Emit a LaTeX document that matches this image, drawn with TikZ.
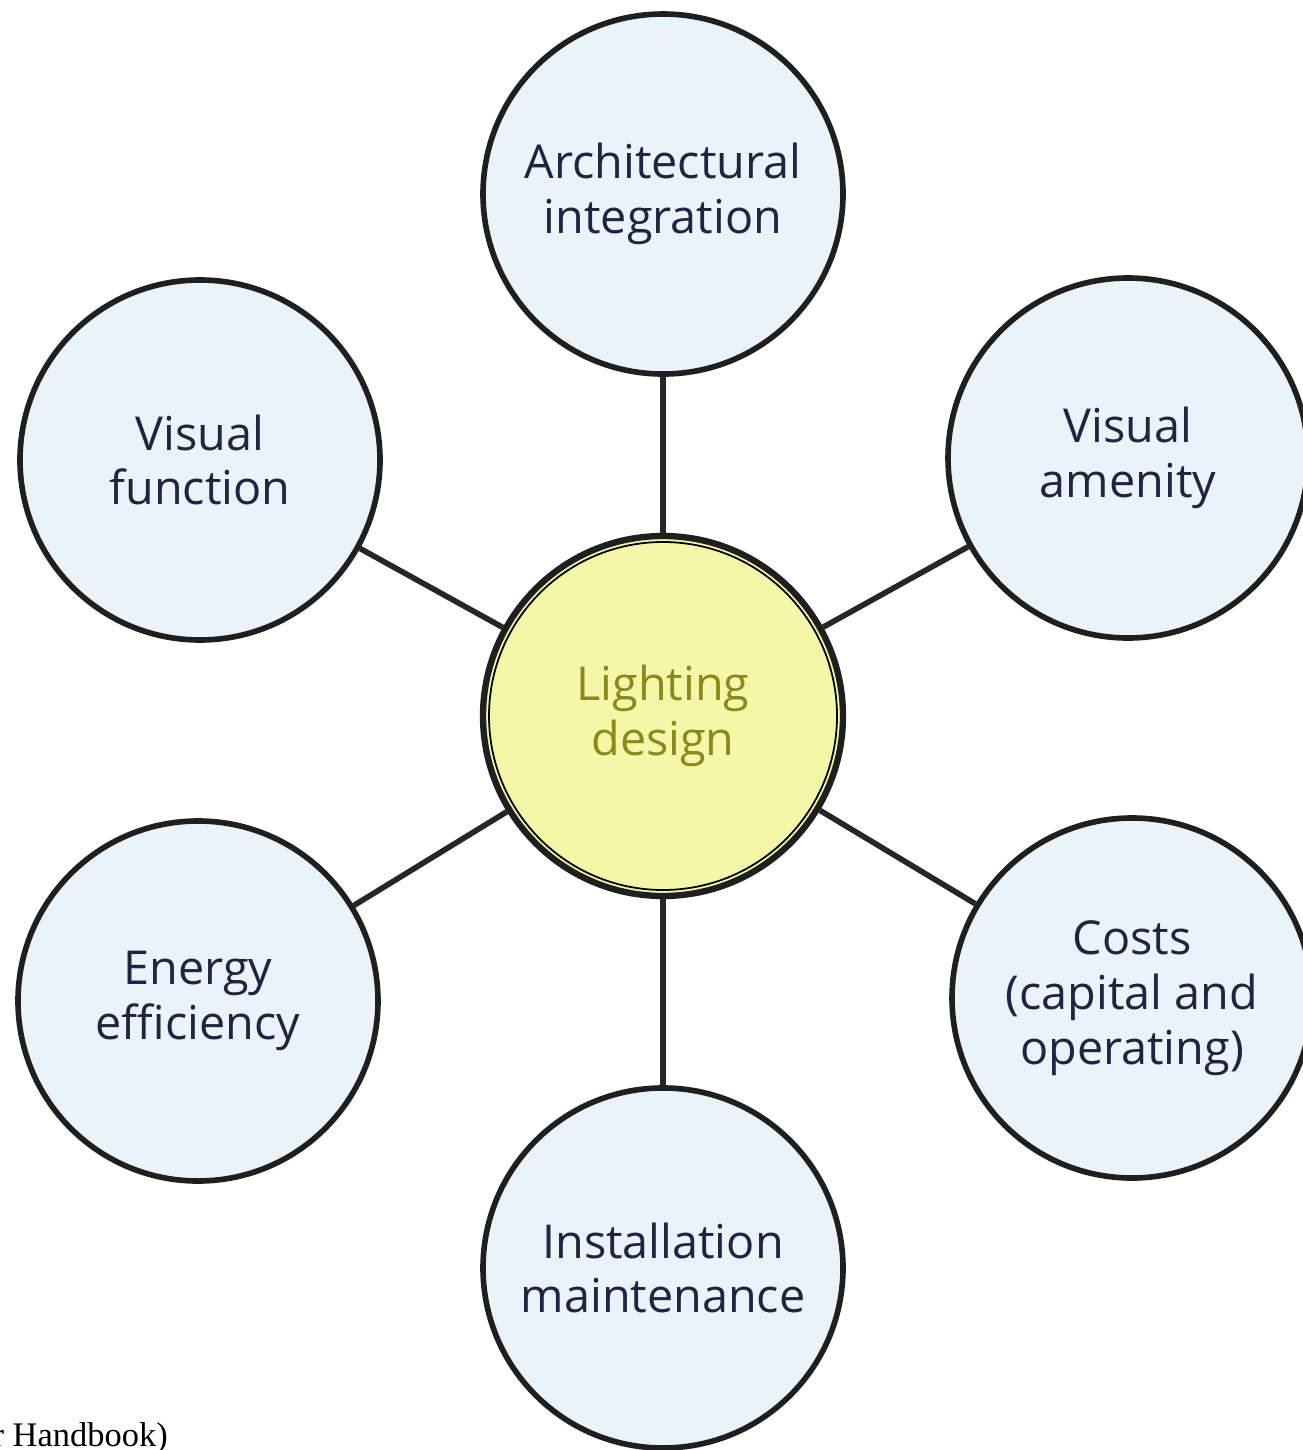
\documentclass[tikz,border=0pt]{standalone}
\usepackage{fontspec}
\setmainfont{Open Sans}
\newfontfamily\notefont{Liberation Serif}
\usepackage{xcolor}
\usetikzlibrary{positioning}

\definecolor{ringfill}{HTML}{EAF2FA}
\definecolor{ringtext}{HTML}{1F2440}
\definecolor{corefill}{HTML}{F4F7A8}
\definecolor{coretext}{HTML}{8A8A1C}

\begin{document}
\begin{tikzpicture}[node distance=1.6cm,
  every node/.style={inner sep=0pt},
  topic/.style={draw=black!88,circle,line width=1.6pt,fill=ringfill,minimum size=3.6cm,
    align=center,text=ringtext,font=\fontsize{13.3}{15.6}\selectfont},
  corebox/.style={topic,fill=corefill,text=coretext,line width=1.8pt},
  spoke/.style={draw=black!85,line width=1.6pt}]
  \useasboundingbox (0,0) rectangle (13.03,-14.50);
  \node[corebox] (core) at (6.63,-7.16) {Lighting\\design};
  \node[topic,above=1.56cm of core] (arch) {Architectural\\integration};
  \node[topic,below=1.86cm of core] (install) {Installation\\maintenance};
  \node[topic] (vfun) at (2.00,-4.60) {Visual\\function};
  \node[topic] (vamen) at (11.28,-4.58) {Visual\\amenity};
  \node[topic] (energy) at (1.98,-10.01) {Energy\\efficiency};
  \node[topic] (costs) at (11.32,-9.98) {Costs\\(capital and\\operating)};
  % inner rim of the core
  \draw[black,line width=0.5pt] (core.center) circle (1.74);
  \foreach \n in {arch,install,vfun,vamen,energy,costs}
    \draw[spoke] (core) -- (\n);
  \node[anchor=base west,font=\notefont\fontsize{9.8}{11}\selectfont] (note) at (-0.08,-14.46) {r Handbook)};
\end{tikzpicture}
\end{document}
